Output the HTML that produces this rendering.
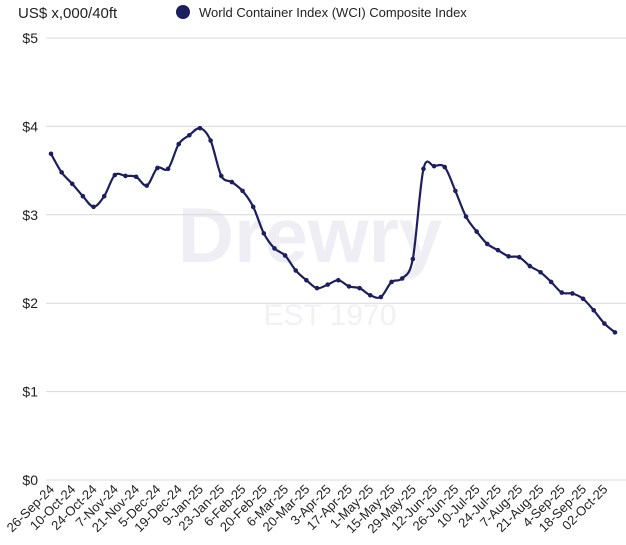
<!DOCTYPE html>
<html><head><meta charset="utf-8"><style>
html,body{margin:0;padding:0;background:#fff;}
svg{display:block;font-family:"Liberation Sans",sans-serif;}
</style></head><body>
<svg id="c" width="626" height="545" viewBox="0 0 626 545" xmlns="http://www.w3.org/2000/svg">
<text x="18" y="18" font-size="15" fill="#222">US$ x,000/40ft</text>
<circle cx="183" cy="12" r="7" fill="#1c1f5e"/>
<text x="199" y="17" font-size="13" fill="#222">World Container Index (WCI) Composite Index</text>
<text x="310" y="262" font-size="78" font-weight="bold" fill="#efeef4" text-anchor="middle">Drewry</text>
<text x="330" y="325" font-size="30" fill="#f1f1f4" text-anchor="middle">EST 1970</text>
<g id="g"></g>
</svg>
<script>
var g=document.getElementById('g'),h='';
function Y(v){return 480-v*88.4;}
for(var i=0;i<=5;i++){var y=Y(i);h+='<line x1="46" x2="626" y1="'+y+'" y2="'+y+'" stroke="#d8d8d8" stroke-width="1"/>';
h+='<text x="38" y="'+(y+5)+'" font-size="14" fill="#222" text-anchor="end">$'+i+'</text>';}
var d=[3.69,3.48,3.35,3.21,3.09,3.21,3.45,3.44,3.43,3.33,3.53,3.52,3.80,3.90,3.98,3.84,3.44,3.37,3.27,3.09,2.79,2.62,2.54,2.37,2.26,2.17,2.21,2.26,2.19,2.17,2.09,2.07,2.24,2.28,2.50,3.52,3.55,3.54,3.27,2.98,2.81,2.67,2.60,2.53,2.52,2.42,2.35,2.24,2.12,2.11,2.05,1.92,1.77,1.67];
function X(i){return 51+i*(615-51)/53;}
var P=d.map(function(v,i){return [X(i),Y(v)];});
var p='M'+P[0][0]+' '+P[0][1];
for(i=0;i<P.length-1;i++){var a=P[i-1]||P[i],b=P[i],c=P[i+1],e=P[i+2]||c,t=0.16;
p+='C'+(b[0]+(c[0]-a[0])*t).toFixed(1)+' '+(b[1]+(c[1]-a[1])*t).toFixed(1)+' '+(c[0]-(e[0]-b[0])*t).toFixed(1)+' '+(c[1]-(e[1]-b[1])*t).toFixed(1)+' '+c[0].toFixed(1)+' '+c[1].toFixed(1);}
h+='<path d="'+p+'" fill="none" stroke="#1c1f5e" stroke-width="2.2" stroke-linejoin="round"/>';
for(i=0;i<d.length;i++)h+='<circle cx="'+X(i)+'" cy="'+Y(d[i])+'" r="2.3" fill="#1c1f5e"/>';
var L=["26-Sep-24","10-Oct-24","24-Oct-24","7-Nov-24","21-Nov-24","5-Dec-24","19-Dec-24","9-Jan-25","23-Jan-25","6-Feb-25","20-Feb-25","6-Mar-25","20-Mar-25","3-Apr-25","17-Apr-25","1-May-25","15-May-25","29-May-25","12-Jun-25","26-Jun-25","10-Jul-25","24-Jul-25","7-Aug-25","21-Aug-25","4-Sep-25","18-Sep-25","02-Oct-25"];
for(i=0;i<L.length;i++){var x=X(i*2)+4,y=490;h+='<text transform="translate('+x+','+y+') rotate(-45)" font-size="13" fill="#222" text-anchor="end">'+L[i]+'</text>';}
g.innerHTML=h;
</script>
</body></html>
